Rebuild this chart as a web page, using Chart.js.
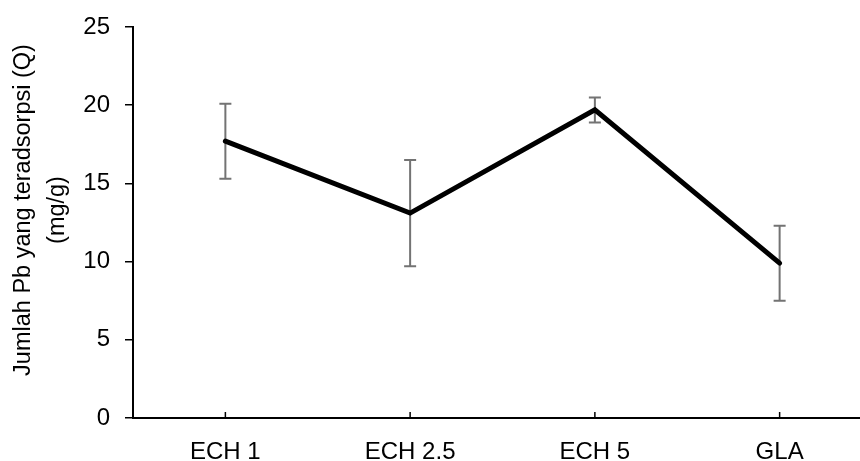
<!DOCTYPE html>
<html>
<head>
<meta charset="utf-8">
<script src="https://cdn.jsdelivr.net/npm/chart.js@4"></script>
<style>
    html, body { margin: 0; padding: 0; overflow: hidden; background: #fff; }
    #wrap { width: 880px; height: 461px; }
</style>
</head>
<body>
<div id="wrap"><canvas id="pb-chart" width="880" height="461"></canvas></div>
<script>
const categories = ['ECH 1', 'ECH 2.5', 'ECH 5', 'GLA'];
const adsorbedPb = [17.7, 13.1, 19.7, 9.9];   // Q (mg/g)
const adsorbedPbError = [2.4, 3.4, 0.8, 2.4]; // +/- error
const yTicks = [0, 5, 10, 15, 20, 25];
const yTitleLines = ['Jumlah Pb yang teradsorpsi (Q)', '(mg/g)'];

const fontFamily = "'Liberation Sans', Arial, sans-serif";

// error bars drawn under the line
const errorBars = {
    id: 'errorBars',
    beforeDatasetsDraw(chart) {
        const ctx = chart.ctx;
        const x = chart.scales.x, y = chart.scales.y;
        ctx.save();
        ctx.strokeStyle = '#737373';
        ctx.lineWidth = 2;
        adsorbedPb.forEach((v, i) => {
            const px = x.getPixelForValue(i);
            const top = y.getPixelForValue(v + adsorbedPbError[i]);
            const bottom = y.getPixelForValue(v - adsorbedPbError[i]);
            ctx.beginPath();
            ctx.moveTo(px, top); ctx.lineTo(px, bottom);
            ctx.moveTo(px - 6, top); ctx.lineTo(px + 6, top);
            ctx.moveTo(px - 6, bottom); ctx.lineTo(px + 6, bottom);
            ctx.stroke();
        });
        ctx.restore();
    }
};

// small inward ticks on the category axis + the y axis title
const axisExtras = {
    id: 'axisExtras',
    afterDraw(chart) {
        const ctx = chart.ctx;
        const x = chart.scales.x;
        const base = chart.chartArea.bottom;
        ctx.save();
        ctx.strokeStyle = '#000';
        ctx.lineWidth = 1.5;
        categories.forEach((c, i) => {
            const px = x.getPixelForValue(i);
            ctx.beginPath();
            ctx.moveTo(px, base);
            ctx.lineTo(px, base - 6);
            ctx.stroke();
        });
        // y title, two lines, rotated
        ctx.translate(0, 210);
        ctx.rotate(-Math.PI / 2);
        ctx.fillStyle = '#000';
        ctx.font = '23.5px ' + fontFamily;
        ctx.textAlign = 'center';
        ctx.textBaseline = 'middle';
        ctx.fillText(yTitleLines[0], 0, 24);
        ctx.fillText(yTitleLines[1], 0, 58);
        ctx.restore();
    }
};

const pbChart = document.getElementById('pb-chart');
new Chart(pbChart, {
    type: 'line',
    data: {
        labels: categories,
        datasets: [
            {
                label: 'Q',
                data: adsorbedPb,
                borderColor: '#000000',
                borderWidth: 5,
                borderCapStyle: 'round',
                borderJoinStyle: 'miter',
                pointRadius: 0,
                tension: 0,
                fill: false,
            }
        ],
    },
    options: {
        responsive: false,
        animation: false,
        layout: { padding: { left: 0, top: 24, right: 8, bottom: 0 } },
        plugins: {
            legend: { display: false },
            tooltip: { enabled: false },
        },
        scales: {
            x: {
                offset: true,
                grid: { display: false },
                border: { display: true, color: '#000', width: 2 },
                ticks: { color: '#000', padding: 12, font: { family: fontFamily, size: 24 } },
                afterFit: (scale) => { scale.height = 43; },
            },
            y: {
                min: 0,
                max: 25,
                afterBuildTicks: (scale) => { scale.ticks = yTicks.map(v => ({ value: v })); },
                grid: { drawOnChartArea: false, color: '#000', lineWidth: 1.5, tickLength: 8 },
                border: { display: true, color: '#000', width: 2 },
                ticks: { color: '#000', padding: 15, font: { family: fontFamily, size: 24, lineHeight: 1 } },
                afterFit: (scale) => { scale.width = 133; },
            },
        },
    },
    plugins: [errorBars, axisExtras],
});
</script>
</body>
</html>
